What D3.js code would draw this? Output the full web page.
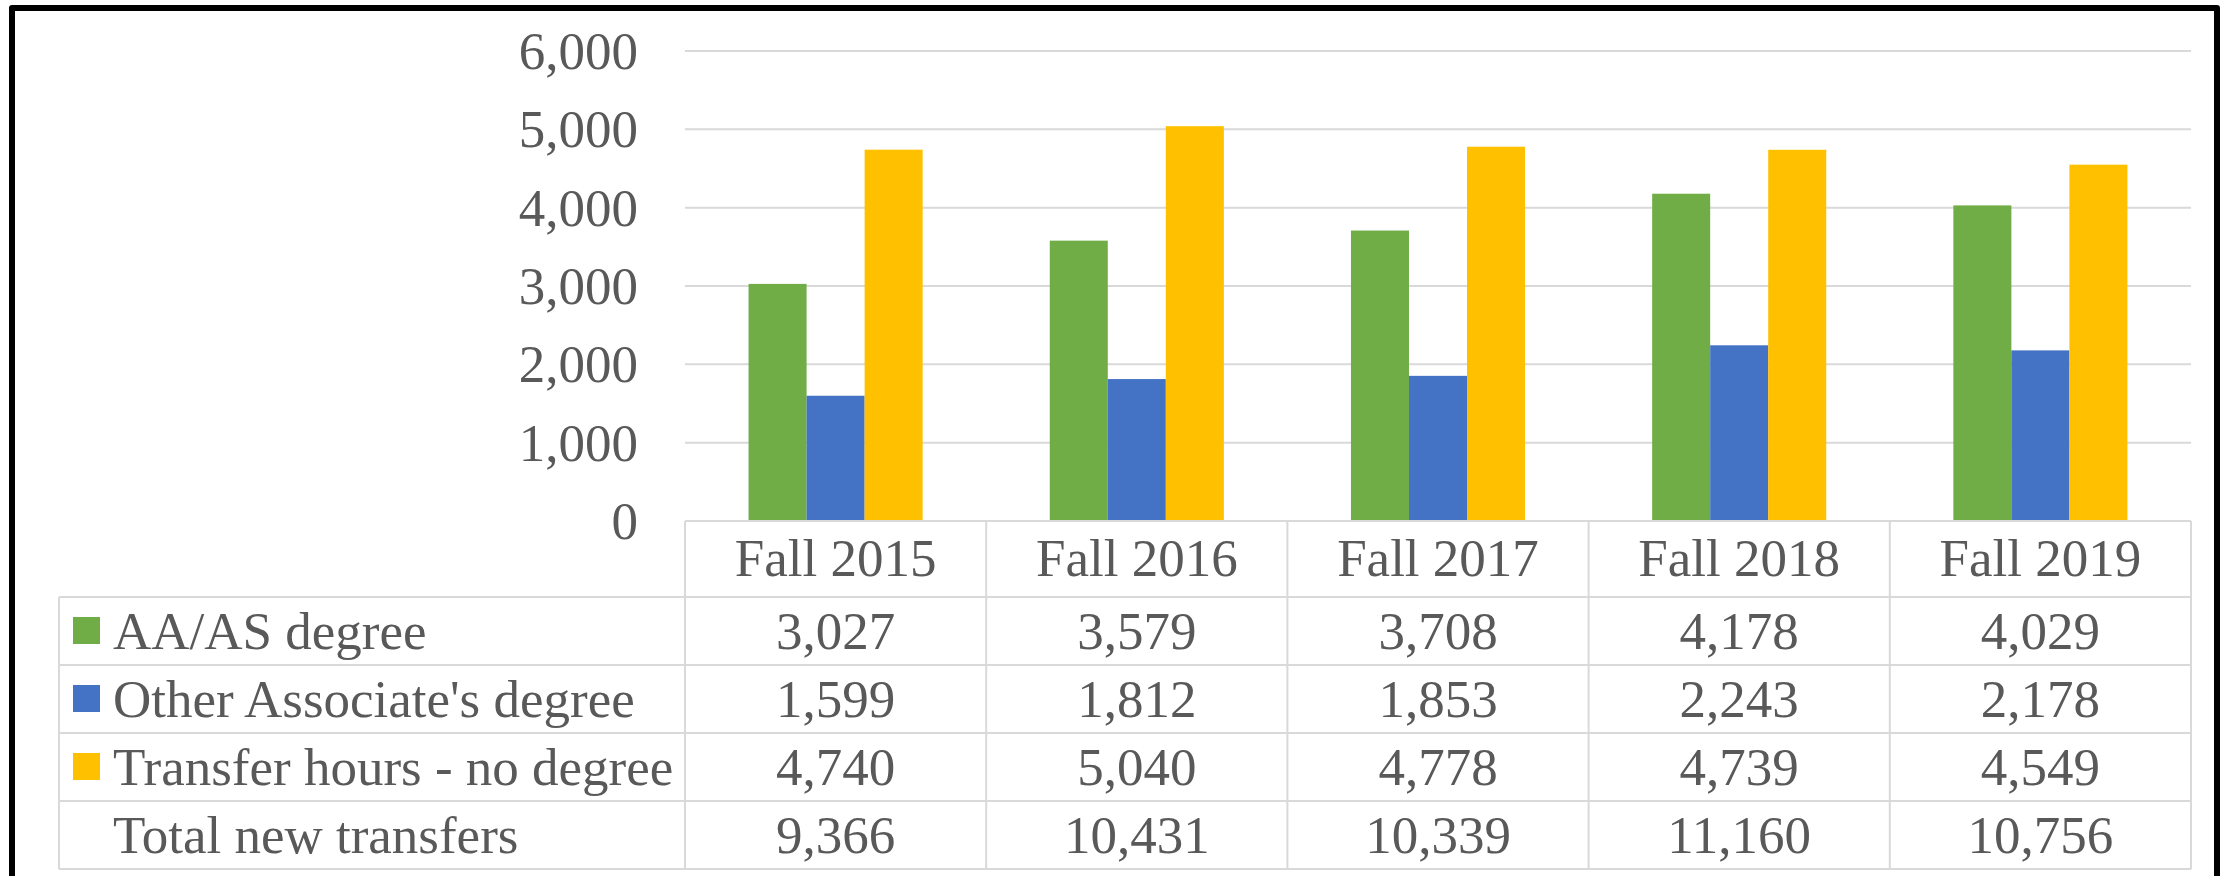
<!DOCTYPE html>
<html>
<head>
<meta charset="utf-8">
<script src="https://cdn.jsdelivr.net/npm/d3@7"></script>
<style>
  body { margin: 0; background: #fff; }
  text { font-family: "Liberation Serif", "Times New Roman", serif; fill: #595959; }
</style>
</head>
<body>
<div id="chart"></div>
<script>
// data
var categories = ["Fall 2015", "Fall 2016", "Fall 2017", "Fall 2018", "Fall 2019"];
var seriesNames = ["AA/AS degree", "Other Associate's degree", "Transfer hours - no degree"];
var aaDegree = [3027, 3579, 3708, 4178, 4029];
var otherAssoc = [1599, 1812, 1853, 2243, 2178];
var transferHours = [4740, 5040, 4778, 4739, 4549];
var totalTransfers = [9366, 10431, 10339, 11160, 10756];
var yTicks = [0, 1000, 2000, 3000, 4000, 5000, 6000];

var colors = ["#70AD47", "#4472C4", "#FFC000"];
var seriesValues = [aaDegree, otherAssoc, transferHours];

var svgWidth = 2223, svgHeight = 876;
var plot = { left: 685, right: 2191, top: 51, bottom: 521 };
var tableLeft = 59;
var headerBottom = 597, tableBottom = 869;
var fontSize = 53;
var fmt = d3.format(",");

var svg = d3.select("#chart").append("svg")
    .attr("width", svgWidth).attr("height", svgHeight);

svg.append("rect").attr("width", svgWidth).attr("height", svgHeight).attr("fill", "#fff");

// scales
var x0 = d3.scaleBand()
    .domain(categories)
    .range([plot.left, plot.right])
    .paddingInner(0.422)
    .paddingOuter(0.211);

var x1 = d3.scaleBand()
    .domain(d3.range(seriesNames.length))
    .range([0, x0.bandwidth()]);

var colBand = d3.scaleBand()
    .domain(categories)
    .range([plot.left, plot.right]);

var y = d3.scaleLinear()
    .domain([0, 6000])
    .range([plot.bottom, plot.top]);

// gridlines
svg.append("g").selectAll("line")
    .data(yTicks.filter(d => d > 0))
    .enter().append("line")
    .attr("x1", plot.left).attr("x2", plot.right)
    .attr("y1", d => y(d)).attr("y2", d => y(d))
    .attr("stroke", "#D9D9D9").attr("stroke-width", 2);

// y axis labels
var leftAxis = d3.axisLeft(y).tickValues(yTicks).tickFormat(fmt).tickSize(0).tickPadding(47);
var yAxis = svg.append("g")
    .attr("transform", `translate(${plot.left}, 0)`)
    .call(leftAxis);
yAxis.select(".domain").remove();
yAxis.selectAll("text")
    .attr("font-size", fontSize)
    .attr("font-family", "Liberation Serif")
    .attr("fill", "#595959")
    .attr("dy", "0.33em");

// bars
var groups = svg.append("g").selectAll("g")
    .data(categories)
    .enter().append("g")
    .attr("transform", d => `translate(${x0(d)}, 0)`);

groups.selectAll("rect")
    .data((d, i) => seriesValues.map((vals, s) => ({ s: s, v: vals[i] })))
    .enter().append("rect")
    .attr("x", d => x1(d.s))
    .attr("width", x1.bandwidth())
    .attr("y", d => y(d.v))
    .attr("height", d => y(0) - y(d.v))
    .attr("fill", d => colors[d.s]);

// data table
var rowLabels = seriesNames.concat(["Total new transfers"]);
var rowValues = seriesValues.concat([totalTransfers]);

var rowBand = d3.scaleBand()
    .domain(d3.range(rowLabels.length))
    .range([headerBottom, tableBottom]);

var table = svg.append("g")
    .attr("stroke", "#D9D9D9").attr("stroke-width", 2);

// horizontal lines
table.append("line")
    .attr("x1", plot.left).attr("x2", plot.right)
    .attr("y1", plot.bottom).attr("y2", plot.bottom);
table.selectAll("line.h")
    .data(d3.range(rowLabels.length + 1))
    .enter().append("line")
    .attr("class", "h")
    .attr("x1", tableLeft).attr("x2", plot.right)
    .attr("y1", d => headerBottom + d * rowBand.step())
    .attr("y2", d => headerBottom + d * rowBand.step());

// vertical lines
table.append("line")
    .attr("x1", tableLeft).attr("x2", tableLeft)
    .attr("y1", headerBottom).attr("y2", tableBottom);
table.selectAll("line.v")
    .data(categories.map(c => colBand(c)).concat([plot.right]))
    .enter().append("line")
    .attr("class", "v")
    .attr("x1", d => d).attr("x2", d => d)
    .attr("y1", plot.bottom).attr("y2", tableBottom);

// header text
svg.append("g").selectAll("text")
    .data(categories)
    .enter().append("text")
    .attr("x", d => colBand(d) + colBand.bandwidth() / 2)
    .attr("y", (plot.bottom + headerBottom) / 2)
    .attr("dy", "0.33em")
    .attr("text-anchor", "middle")
    .attr("font-size", fontSize)
    .text(d => d);

// row labels with legend keys
var rows = svg.append("g").selectAll("g")
    .data(rowLabels)
    .enter().append("g")
    .attr("transform", (d, i) => `translate(0, ${rowBand(i) + rowBand.bandwidth() / 2})`);

rows.filter((d, i) => i < colors.length)
    .append("rect")
    .attr("x", 73).attr("y", -14)
    .attr("width", 27).attr("height", 27)
    .attr("fill", (d, i) => colors[i]);

rows.append("text")
    .attr("x", 113)
    .attr("dy", "0.33em")
    .attr("font-size", fontSize)
    .text(d => d);

rows.selectAll("text.val")
    .data((d, i) => rowValues[i].map((v, j) => ({ v: v, c: categories[j] })))
    .enter().append("text")
    .attr("class", "val")
    .attr("x", d => colBand(d.c) + colBand.bandwidth() / 2)
    .attr("dy", "0.33em")
    .attr("text-anchor", "middle")
    .attr("font-size", fontSize)
    .text(d => fmt(d.v));

// outer frame (bottom edge falls outside the picture)
svg.append("rect")
    .attr("x", 12).attr("y", 8)
    .attr("width", 2205).attr("height", 920)
    .attr("fill", "none")
    .attr("stroke", "#000").attr("stroke-width", 6)
    .attr("stroke-linejoin", "round");
</script>
</body>
</html>
